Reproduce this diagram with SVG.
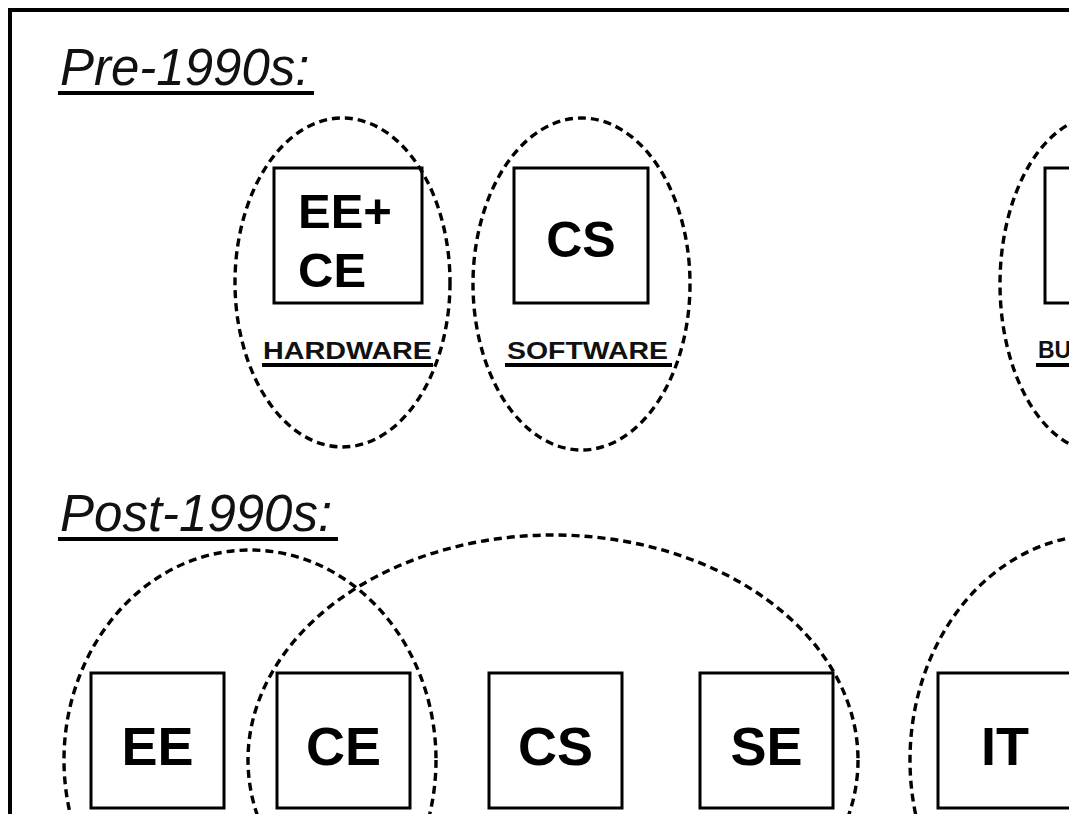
<svg xmlns="http://www.w3.org/2000/svg" width="1069" height="814" viewBox="0 0 1069 814">
<style>
.frame{fill:none;stroke:#000;stroke-width:4}
.box{fill:#fff;stroke:#000;stroke-width:3}
.grp{fill:none;stroke:#000;stroke-width:3.4;stroke-dasharray:8 5}
.hd{font-family:"Liberation Sans",Arial,sans-serif;font-style:italic;font-size:51px;fill:#111}
.big{font-family:"Liberation Sans",Arial,sans-serif;font-weight:bold;fill:#000}
.lbl{font-family:"Liberation Sans",Arial,sans-serif;font-weight:bold;font-size:23px;fill:#111}
.ul{fill:#000}
</style>
<rect width="1069" height="814" fill="#fff"/>
<rect class="frame" x="10" y="10" width="1110" height="900"/>

<g id="heading-pre">
<text class="hd" x="60" y="85">Pre-1990s:</text>
<rect class="ul" x="58" y="91" width="256" height="4"/>
</g>
<g id="heading-post">
<text class="hd" x="60" y="531">Post-1990s:</text>
<rect class="ul" x="58" y="537" width="280" height="4"/>
</g>

<g id="node-ee-ce">
<rect class="box" x="274" y="168" width="148" height="135"/>
<text class="big" x="298" y="228" font-size="49">EE+</text>
<text class="big" x="298" y="287" font-size="49">CE</text>
</g>
<g id="node-cs-pre">
<rect class="box" x="514" y="168" width="134" height="135"/>
<text class="big" x="581" y="257" font-size="50" text-anchor="middle">CS</text>
</g>
<g id="node-bus-pre">
<rect class="box" x="1045" y="168" width="134" height="135"/>
</g>

<g id="group-hardware">
<ellipse class="grp" cx="342.5" cy="282.5" rx="107.5" ry="164.5"/>
<text class="lbl" x="263" y="359" textLength="169" lengthAdjust="spacingAndGlyphs">HARDWARE</text>
<rect class="ul" x="262" y="363" width="171" height="4"/>
</g>
<g id="group-software">
<ellipse class="grp" cx="581.5" cy="284" rx="108.5" ry="166"/>
<text class="lbl" x="507" y="359" textLength="161" lengthAdjust="spacingAndGlyphs">SOFTWARE</text>
<rect class="ul" x="505" y="363" width="167" height="4"/>
</g>
<g id="group-business">
<ellipse class="grp" cx="1100" cy="284" rx="100" ry="168"/>
<text class="lbl" x="1038" y="358">BU</text>
<rect class="ul" x="1036" y="363" width="60" height="4"/>
</g>

<g id="node-ee">
<rect class="box" x="91" y="673" width="133" height="135"/>
<text class="big" x="157.5" y="765" font-size="54" text-anchor="middle">EE</text>
</g>
<g id="node-ce">
<rect class="box" x="277" y="673" width="133" height="135"/>
<text class="big" x="343.5" y="765" font-size="54" text-anchor="middle">CE</text>
</g>
<g id="node-cs">
<rect class="box" x="489" y="673" width="133" height="135"/>
<text class="big" x="555.5" y="765" font-size="54" text-anchor="middle">CS</text>
</g>
<g id="node-se">
<rect class="box" x="700" y="673" width="133" height="135"/>
<text class="big" x="766.5" y="765" font-size="54" text-anchor="middle">SE</text>
</g>
<g id="node-it">
<rect class="box" x="938" y="673" width="133" height="135"/>
<text class="big" x="1005" y="765" font-size="54" text-anchor="middle">IT</text>
</g>

<g id="groups-post">
<ellipse class="grp" cx="250" cy="760" rx="186" ry="210" stroke-dasharray="9 5"/>
<ellipse class="grp" cx="553" cy="760" rx="305" ry="225" stroke-dasharray="9 5"/>
<ellipse class="grp" cx="1100" cy="760" rx="190" ry="225" stroke-dasharray="9 5"/>
</g>
</svg>
